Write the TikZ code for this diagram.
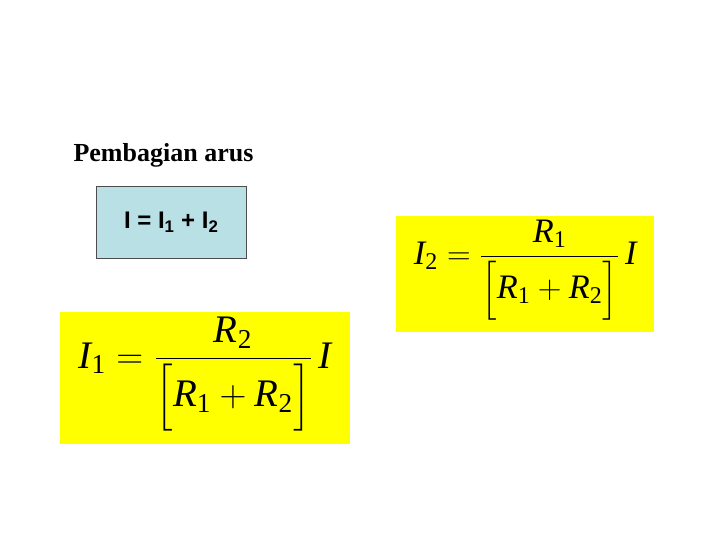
\documentclass[tikz,border=0pt]{standalone}
\usepackage{amsmath}
\usepackage{fontspec}
\setmainfont{Liberation Serif}
\newfontfamily\arialf{Liberation Sans}
\definecolor{ybox}{RGB}{255,255,0}
\definecolor{bbox}{RGB}{185,224,228}
\newcommand{\vi}[1]{\textit{#1}}
\begin{document}
\begin{tikzpicture}[x=1pt,y=-1pt,
  eqbox/.style={fill=ybox,minimum width=#1,inner sep=0pt,anchor=north west}]
\useasboundingbox (0,0) rectangle (720,540);
\node[anchor=base west,font=\fontsize{26}{30}\selectfont\bfseries] (title) at (70,162) {Pembagian arus};
\node[draw=black!70,fill=bbox,anchor=north west,minimum width=150,minimum height=72,inner sep=0pt] (sum) at (96,186) {};
\node[font=\arialf\bfseries\fontsize{24}{28}\selectfont] (sumt) at (sum.center) {I = I\textsubscript{1} + I\textsubscript{2}};
\node[eqbox=290,minimum height=132] (b1) at (60,312) {};
\node[eqbox=258,minimum height=116] (b2) at (396,216) {};
\node (e1) at ([yshift=4]b1.center) {\scalebox{1.5}{\fontsize{26}{30}\selectfont$\vi{I}_{\text{1}}=\dfrac{\vi{R}_{\text{2}}}{\Big[\vi{R}_{\text{1}}+\vi{R}_{\text{2}}\Big]}\,\vi{I}$}};
\node (e2) at ([yshift=4]b2.center) {\scalebox{1.32}{\fontsize{26}{30}\selectfont$\vi{I}_{\text{2}}=\dfrac{\vi{R}_{\text{1}}}{\Big[\vi{R}_{\text{1}}+\vi{R}_{\text{2}}\Big]}\,\vi{I}$}};
\end{tikzpicture}
\end{document}
